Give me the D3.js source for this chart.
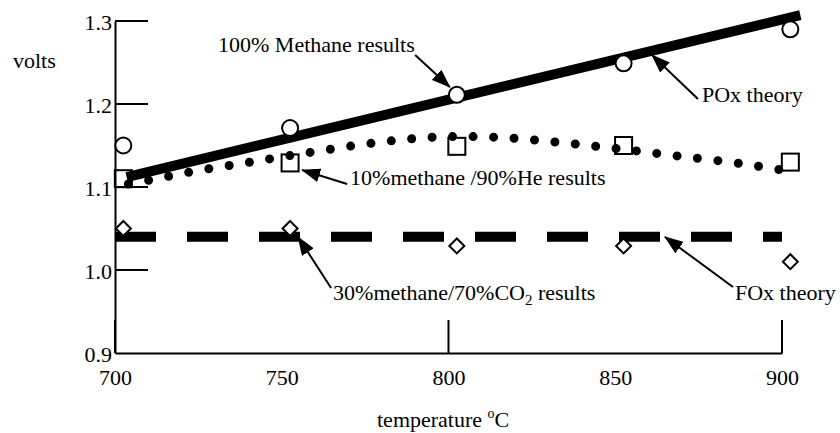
<!DOCTYPE html>
<html>
<head>
<meta charset="utf-8">
<script src="https://cdn.jsdelivr.net/npm/d3@7"></script>
<style>
  body { margin: 0; background: #fff; }
  svg { font-family: "Liberation Serif", "Times New Roman", serif; }
  text { fill: #000; }
</style>
</head>
<body>
<div id="chart"></div>
<script>
const width = 840;
const height = 433;

// measured points (temperature °C)
const temps = [702.5, 752.5, 802.5, 852.5, 902.5];
const methane100 = [1.15, 1.171, 1.211, 1.249, 1.29];
const methane10 = [1.11, 1.129, 1.149, 1.15, 1.13];
const methane30 = [1.05, 1.05, 1.029, 1.029, 1.01];

// theory lines
const poxT = [703.5, 905.5];
const poxV = [1.112, 1.307];
const foxT = [700, 900];
const foxV = [1.04, 1.04];

// dotted fit through the 10% methane results
const fitT = [704, 710.5, 722.5, 740.5, 759, 777.5, 795.5, 814, 832.5, 851, 869.5, 888, 900.5];
const fitV = [1.1036, 1.1084, 1.118, 1.13, 1.142, 1.153, 1.16, 1.16, 1.154, 1.146, 1.137, 1.128, 1.12];

const xTicks = [700, 750, 800, 850, 900];
const yTicks = [0.9, 1.0, 1.1, 1.2, 1.3];

// annotations: label anchor, arrow tail, arrow tip (data units)
const notes = [
    { text: "100% Methane results", at: [730.9, 1.2627], from: [790, 1.259], to: [800.4, 1.2205] },
    { text: "POx theory", at: [876, 1.2024], from: [874.8, 1.206], to: [861, 1.259] },
    { text: "10%methane /90%He results", at: [770.5, 1.1024], from: [769.6, 1.1036], to: [756.1, 1.1205] },
    { text: "30%methane/70%CO|2| results", at: [765.4, 0.9639], from: [764.8, 0.9783], to: [754.9, 1.0398] },
    { text: "FOx theory", at: [885.9, 0.9639], from: [885.3, 0.9795], to: [864.9, 1.0398] }
];

const svg = d3.select("#chart")
    .append("svg")
    .attr("width", width)
    .attr("height", height);

const x = d3.scaleLinear().domain([700, 900]).range([115, 782]);
const y = d3.scaleLinear().domain([0.9, 1.3]).range([353, 21]);

svg.append("defs").append("marker")
    .attr("id", "head")
    .attr("markerUnits", "userSpaceOnUse")
    .attr("viewBox", "0 0 19 14")
    .attr("markerWidth", 19)
    .attr("markerHeight", 14)
    .attr("refX", 18)
    .attr("refY", 7)
    .attr("orient", "auto")
    .append("path")
    .attr("d", "M0,0L19,7L0,14Z")
    .attr("fill", "#000");

// axes
const yAxis = svg.append("g")
    .attr("transform", `translate(${x(700)},0)`)
    .call(d3.axisLeft(y).tickValues(yTicks).tickSize(0).tickSizeOuter(0)
        .tickPadding(3).tickFormat(d3.format(".1f")));

const xAxis = svg.append("g")
    .attr("transform", `translate(0,${y(0.9)})`)
    .call(d3.axisBottom(x).tickValues(xTicks).tickSize(0).tickSizeOuter(0));

xAxis.selectAll(".tick text").attr("y", 32).attr("dy", 0);
yAxis.selectAll(".tick text").attr("dy", "0.4em");

[xAxis, yAxis].forEach(g => {
    g.attr("font-family", null).attr("font-size", null);
    g.selectAll("text").style("font-size", "22px");
    g.selectAll("path").attr("stroke", "#000").attr("stroke-width", 2);
});

// inward tick marks
svg.append("g").selectAll("line")
    .data(yTicks.slice(1))
    .enter()
    .append("line")
    .attr("x1", x(700)).attr("x2", x(700) + 33)
    .attr("y1", d => y(d)).attr("y2", d => y(d))
    .attr("stroke", "#000")
    .attr("stroke-width", 2);

svg.append("g").selectAll("line")
    .data(xTicks.filter(d => d % 100 === 0))
    .enter()
    .append("line")
    .attr("x1", d => x(d)).attr("x2", d => x(d))
    .attr("y1", y(0.9)).attr("y2", y(0.9) - 33)
    .attr("stroke", "#000")
    .attr("stroke-width", 2);

// POx theory
const line = d3.line().x(d => x(d[0])).y(d => y(d[1]));
svg.append("path")
    .attr("d", line(d3.zip(poxT, poxV)))
    .attr("fill", "none")
    .attr("stroke", "#000")
    .attr("stroke-width", 10);

// 10% methane squares
svg.selectAll("rect.sq")
    .data(d3.zip(temps, methane10))
    .enter()
    .append("rect")
    .attr("class", "sq")
    .attr("x", d => x(d[0]) - 8.5)
    .attr("y", d => y(d[1]) - 8.5)
    .attr("width", 17)
    .attr("height", 17)
    .attr("fill", "none")
    .attr("stroke", "#000")
    .attr("stroke-width", 2);

// dotted fit
svg.append("path")
    .attr("d", d3.line().x(d => x(d[0])).y(d => y(d[1])).curve(d3.curveCatmullRom)(d3.zip(fitT, fitV)))
    .attr("fill", "none")
    .attr("stroke", "#000")
    .attr("stroke-width", 9)
    .attr("stroke-linecap", "round")
    .attr("stroke-dasharray", "0 20.5");

// FOx theory
svg.append("path")
    .attr("d", line(d3.zip(foxT, foxV)))
    .attr("fill", "none")
    .attr("stroke", "#000")
    .attr("stroke-width", 10)
    .attr("stroke-dasharray", "41 31");

// 30% methane diamonds
svg.selectAll("path.dia")
    .data(d3.zip(temps, methane30))
    .enter()
    .append("path")
    .attr("class", "dia")
    .attr("d", d => `M${x(d[0])},${y(d[1]) - 7.5}l7.5,7.5l-7.5,7.5l-7.5,-7.5z`)
    .attr("fill", "#fff")
    .attr("stroke", "#000")
    .attr("stroke-width", 2);

// 100% methane circles
svg.selectAll("circle.m100")
    .data(d3.zip(temps, methane100))
    .enter()
    .append("circle")
    .attr("class", "m100")
    .attr("cx", d => x(d[0]))
    .attr("cy", d => y(d[1]))
    .attr("r", 8)
    .attr("fill", "#fff")
    .attr("stroke", "#000")
    .attr("stroke-width", 2);

// annotations
notes.forEach(n => {
    svg.append("line")
        .attr("x1", x(n.from[0])).attr("y1", y(n.from[1]))
        .attr("x2", x(n.to[0])).attr("y2", y(n.to[1]))
        .attr("stroke", "#000")
        .attr("stroke-width", 2)
        .attr("marker-end", "url(#head)");

    const t = svg.append("text")
        .attr("x", x(n.at[0]))
        .attr("y", y(n.at[1]))
        .style("font-size", "22px");
    n.text.split("|").forEach((part, i) => {
        const s = t.append("tspan").text(part);
        if (i === 1) s.attr("dy", 5).style("font-size", "15px");
        if (i === 2) s.attr("dy", -5);
    });
});

svg.append("text")
    .attr("x", 13)
    .attr("y", 68)
    .style("font-size", "22px")
    .text("volts");

const xt = svg.append("text")
    .attr("x", 377)
    .attr("y", 427)
    .style("font-size", "22px");
xt.append("tspan").text("temperature  ");
xt.append("tspan").attr("dy", -9).style("font-size", "14px").text("o");
xt.append("tspan").attr("dy", 9).text("C");
</script>
</body>
</html>
